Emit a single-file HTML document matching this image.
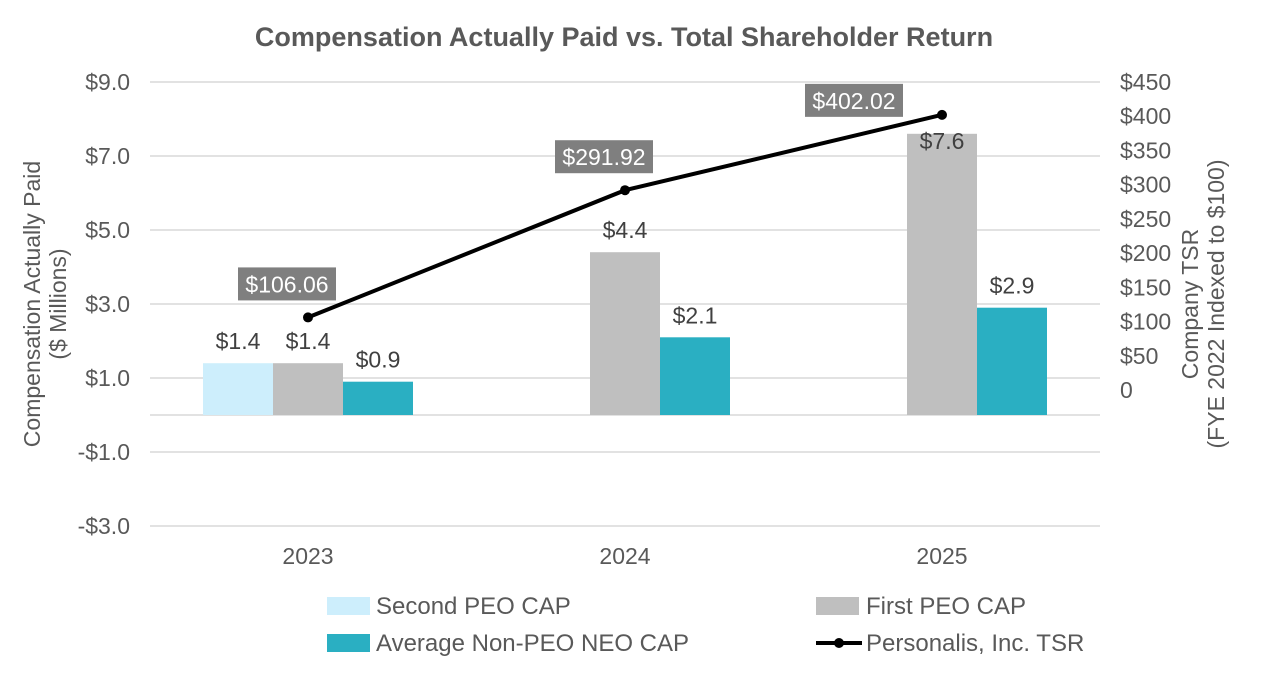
<!DOCTYPE html>
<html><head><meta charset="utf-8"><style>
body{margin:0;background:#fff;font-family:"Liberation Sans",Arial,sans-serif;}
svg text{font-family:"Liberation Sans",Arial,sans-serif;}
</style></head><body>
<svg id="chart" width="1264" height="681" xmlns="http://www.w3.org/2000/svg">
<text x="624" y="46" text-anchor="middle" font-size="27" font-weight="bold" fill="#595959">Compensation Actually Paid vs. Total Shareholder Return</text>
<g id="grid"></g><g id="bars"></g><g id="line"></g><g id="axes"></g>
<text transform="translate(40,304) rotate(-90)" text-anchor="middle" font-size="23" fill="#595959"><tspan x="0" dy="0">Compensation Actually Paid</tspan><tspan x="0" dy="26">($ Millions)</tspan></text>
<text transform="translate(1198,304) rotate(-90)" text-anchor="middle" font-size="23" fill="#595959"><tspan x="0" dy="0">Company TSR</tspan><tspan x="0" dy="26">(FYE 2022 Indexed to $100)</tspan></text>
<g>
<rect x="327" y="597" width="43" height="18" fill="#cdeefc"/>
<text x="376" y="614" font-size="24" fill="#595959">Second PEO CAP</text>
<rect x="816" y="597" width="43" height="18" fill="#bfbfbf"/>
<text x="866" y="614" font-size="24" fill="#595959">First PEO CAP</text>
<rect x="327" y="634" width="43" height="18" fill="#2aafc2"/>
<text x="376" y="651" font-size="24" fill="#595959">Average Non-PEO NEO CAP</text>
<line x1="816" y1="643" x2="862" y2="643" stroke="#000" stroke-width="4"/>
<circle cx="839" cy="643" r="5" fill="#000"/>
<text x="866" y="651" font-size="24" fill="#595959">Personalis, Inc. TSR</text>
</g>
</svg>
<script>
const categories=["2023","2024","2025"];
const secondPeo=[1.4,null,null];
const firstPeo=[1.4,4.4,7.6];
const nonPeo=[0.9,2.1,2.9];
const tsr=[106.06,291.92,402.02];
const leftTicks=[9,7,5,3,1,-1,-3];
const leftTickLabels=["$9.0","$7.0","$5.0","$3.0","$1.0","-$1.0","-$3.0"];
const rightTicks=[450,400,350,300,250,200,150,100,50,0];

const NS="http://www.w3.org/2000/svg";
const yL=v=>415-v*37;
const yR=v=>390-v*0.6844;
const xC=i=>308+i*317;
function mk(p,t,a){const e=document.createElementNS(NS,t);for(const k in a)e.setAttribute(k,a[k]);p.appendChild(e);return e;}
const grid=document.getElementById('grid'),bars=document.getElementById('bars'),line=document.getElementById('line'),axes=document.getElementById('axes');
leftTicks.forEach((v,i)=>{
 const g=mk(grid,'line',{x1:150,x2:1100,y1:yL(v),y2:yL(v),stroke:'#d9d9d9','stroke-width':1.5});
 
 
 const t=mk(axes,'text',{x:130,y:yL(v)+8,'text-anchor':'end','font-size':23,fill:'#595959'});
 t.textContent=leftTickLabels[i];
 
 
});
const z=mk(grid,'line',{x1:150,x2:1100,y1:yL(0),y2:yL(0),stroke:'#d9d9d9','stroke-width':1.5});


rightTicks.forEach(v=>{
 const t=mk(axes,'text',{x:1120,y:yR(v)+8,'font-size':23,fill:'#595959'});
 t.textContent=v===0?'0':'$'+v;
 
 
});
categories.forEach((c,i)=>{
 const t=mk(axes,'text',{x:xC(i),y:564,'text-anchor':'middle','font-size':23,fill:'#595959'});
 t.textContent=c;
 
 
});
const series=[[secondPeo,'#cdeefc',-70,'bar-second-peo'],[firstPeo,'#bfbfbf',0,'bar-first-peo'],[nonPeo,'#2aafc2',70,'bar-non-peo']];
series.forEach(([arr,col,off,name])=>{
 arr.forEach((v,i)=>{
  if(v==null)return;
  const x=xC(i)+off-35,y0=yL(0),y1=yL(v);
  const r=mk(bars,'rect',{x:x,y:Math.min(y0,y1),width:70,height:Math.abs(y0-y1),fill:col});
  
  
  const ty=v>7?y1+15:y1-14;
  const t=mk(bars,'text',{x:x+35,y:ty,'text-anchor':'middle','font-size':23,fill:'#404040'});
  t.textContent='$'+v.toFixed(1);
  
  
 });
});
const pts=tsr.map((v,i)=>xC(i)+','+yR(v)).join(' ');
const pl=mk(line,'polyline',{points:pts,fill:'none',stroke:'#000','stroke-width':4});


tsr.forEach((v,i)=>{
 const c=mk(line,'circle',{cx:xC(i),cy:yR(v),r:5,fill:'#000'});
 
 
 const last=i===tsr.length-1;
 const bx=last?xC(i)-137:xC(i)-70,by=last?yR(v)-31:yR(v)-50;
 const r=mk(line,'rect',{x:bx,y:by,width:98,height:33,fill:'#7f7f7f'});
 
 
 const t=mk(line,'text',{x:bx+49,y:by+25,'text-anchor':'middle','font-size':23,fill:'#fff'});
 t.textContent='$'+v.toFixed(2);
 
 
});
</script>
</body></html>
